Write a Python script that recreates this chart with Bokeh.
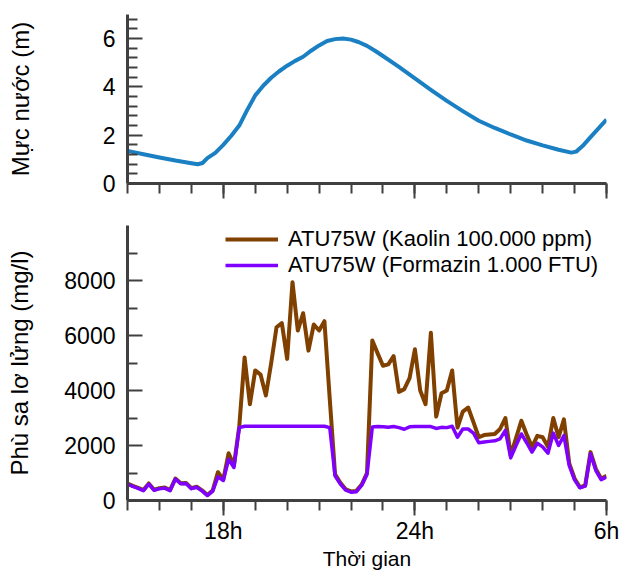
from bokeh.plotting import figure
from bokeh.layouts import column
from bokeh.models import Range1d, FixedTicker, Legend, LegendItem
from bokeh.embed import file_html
from bokeh.resources import INLINE

# ---------------- data ----------------
# water level (m) vs time (hours, 15h .. 30h = 6h next day)
wl_time = [15.0, 15.5, 16.0, 16.5, 17.0, 17.2, 17.35, 17.5, 17.75, 18.0, 18.25, 18.5,
           18.75, 19.0, 19.25, 19.5, 19.75, 20.0, 20.25, 20.5, 20.75, 21.0, 21.25, 21.5,
           21.75, 22.0, 22.25, 22.5, 22.75, 23.0, 23.5, 24.0, 24.5, 25.0, 25.5, 26.0,
           26.5, 27.0, 27.5, 28.0, 28.5, 28.9, 29.05, 29.25, 29.5, 29.75, 30.0]
wl_value = [1.35, 1.21, 1.08, 0.95, 0.84, 0.80, 0.85, 1.05, 1.27, 1.6, 1.98, 2.4,
            3.05, 3.65, 4.05, 4.38, 4.65, 4.88, 5.08, 5.25, 5.5, 5.72, 5.9, 5.98,
            6.01, 5.96, 5.85, 5.7, 5.5, 5.28, 4.83, 4.35, 3.88, 3.42, 3.0, 2.6,
            2.3, 2.03, 1.78, 1.58, 1.4, 1.28, 1.32, 1.55, 1.92, 2.28, 2.65]

# suspended sediment (mg/l), one sample every 10 minutes from 15h to 6h
sed_time = [15 + i / 6 for i in range(91)]
kaolin = [620, 530, 460, 380, 620, 390, 450, 470, 380, 800,
          630, 640, 450, 500, 370, 200, 360, 1030, 760, 1720,
          1280, 2700, 5200, 3500, 4730, 4580, 3820, 5000, 6300, 6450,
          5150, 7940, 6180, 6810, 5450, 6400, 6180, 6520, 3700, 950,
          640, 410, 330, 350, 580, 1000, 5820, 5350, 4900, 4950,
          5250, 3950, 4050, 4450, 5500, 4000, 3500, 6100, 3050, 3900,
          4000, 4730, 2650, 3230, 3380, 2850, 2300, 2380, 2400, 2420,
          2600, 3000, 1650, 2270, 2900, 2400, 1950, 2350, 2300, 1950,
          3000, 2300, 2950, 1350, 800, 480, 550, 1760, 1150, 790,
          900]
formazin = [600, 510, 440, 360, 600, 370, 430, 450, 360, 780,
            610, 620, 430, 480, 350, 180, 340, 860, 730, 1500,
            1200, 2650, 2700, 2700, 2700, 2700, 2700, 2700, 2700, 2700,
            2700, 2700, 2700, 2700, 2700, 2700, 2700, 2700, 2650, 900,
            600, 380, 300, 320, 550, 950, 2670, 2690, 2680, 2660,
            2690, 2650, 2590, 2680, 2690, 2690, 2690, 2690, 2620, 2660,
            2650, 2700, 2300, 2600, 2600, 2450, 2100, 2130, 2150, 2170,
            2240, 2550, 1550, 2000, 2420, 2100, 1760, 2080, 1950, 1720,
            2450, 2000, 2360, 1270, 750, 460, 520, 1700, 1090, 760,
            850]

x_major = [18, 24, 30]
x_labels = ["18h", "24h", "6h"]
x_minor = list(range(15, 31))
wl_major = [0, 2, 4, 6]
wl_minor = [0.4, 0.8, 1.2, 1.6, 2.4, 2.8, 3.2, 3.6, 4.4, 4.8, 5.2, 5.6, 6.4, 6.8]
sed_major = [0, 2000, 4000, 6000, 8000]
sed_minor = [1000, 3000, 5000, 7000, 9000]

legend_labels = ["ATU75W (Kaolin 100.000 ppm)", "ATU75W (Formazin 1.000 FTU)"]

FONT = "Liberation Sans"
AXC = "#404040"


def style_axes(p):
    p.outline_line_color = None
    p.xgrid.visible = False
    p.ygrid.visible = False
    for ax in (p.xaxis[0], p.yaxis[0]):
        ax.axis_line_width = 3
        ax.axis_line_color = AXC
        ax.major_tick_line_color = AXC
        ax.minor_tick_line_color = AXC
        ax.major_tick_line_width = 2
        ax.minor_tick_line_width = 2
        ax.major_label_text_font = FONT
        ax.major_label_text_font_size = "23px"
        ax.major_label_text_color = "black"
        ax.axis_label_text_font = FONT
        ax.axis_label_text_font_style = "normal"
        ax.axis_label_text_color = "black"
    xa = p.xaxis[0]
    xa.major_tick_in = 0
    xa.major_tick_out = 15
    xa.minor_tick_in = 0
    xa.minor_tick_out = 10
    xa.ticker = FixedTicker(ticks=x_major, minor_ticks=x_minor)
    xa.major_label_overrides = {t: l for t, l in zip(x_major, x_labels)}
    ya = p.yaxis[0]
    ya.major_tick_in = 15
    ya.major_tick_out = 0
    ya.minor_tick_in = 10
    ya.minor_tick_out = 0
    ya.major_label_standoff = 12
    ya.axis_label_text_font_size = "24px"


# ---------------- top panel ----------------
p1 = figure(width=631, height=203, output_backend="svg", toolbar_location=None,
            x_range=Range1d(15, 30), y_range=Range1d(0, 7),
            min_border_left=127, min_border_right=25, min_border_top=14,
            min_border_bottom=20)
p1.line(wl_time, wl_value, line_color="#1b80c3", line_width=4, line_join="round")
style_axes(p1)
p1.yaxis[0].ticker = FixedTicker(ticks=wl_major, minor_ticks=wl_minor)
p1.yaxis[0].axis_label = "Mực nước (m)"
p1.yaxis[0].axis_label_standoff = 66
# top panel: tick marks only, no tick labels
p1.xaxis[0].major_label_text_color = None
p1.xaxis[0].major_label_text_font_size = "0px"
p1.xaxis[0].major_label_standoff = 0

# ---------------- bottom panel ----------------
p2 = figure(width=631, height=370, output_backend="svg", toolbar_location=None,
            x_range=Range1d(15, 30), y_range=Range1d(0, 10000),
            min_border_left=127, min_border_right=25, min_border_top=22,
            min_border_bottom=73)
r_k = p2.line(sed_time, kaolin, line_color="#804000", line_width=4, line_join="round")
r_f = p2.line(sed_time, formazin, line_color="#8000ff", line_width=3.5, line_join="round")
style_axes(p2)
p2.yaxis[0].ticker = FixedTicker(ticks=sed_major, minor_ticks=sed_minor)
p2.yaxis[0].axis_label = "Phù sa lơ lửng (mg/l)"
p2.yaxis[0].axis_label_standoff = 28
p2.xaxis[0].axis_label = "Thời gian"
p2.xaxis[0].axis_label_text_font_size = "21px"
p2.xaxis[0].major_label_standoff = 2
p2.xaxis[0].axis_label_standoff = 0

legend = Legend(items=[LegendItem(label=legend_labels[0], renderers=[r_k]),
                       LegendItem(label=legend_labels[1], renderers=[r_f])],
                location=(98, 222), padding=0, margin=0, spacing=0,
                glyph_width=53, glyph_height=24, label_height=24,
                label_standoff=10, label_text_font=FONT,
                label_text_font_size="22px", label_text_color="black",
                border_line_alpha=0, background_fill_alpha=0)
p2.add_layout(legend)

layout = column(p1, p2, spacing=0)
open("out.html", "w").write(file_html(layout, INLINE))
